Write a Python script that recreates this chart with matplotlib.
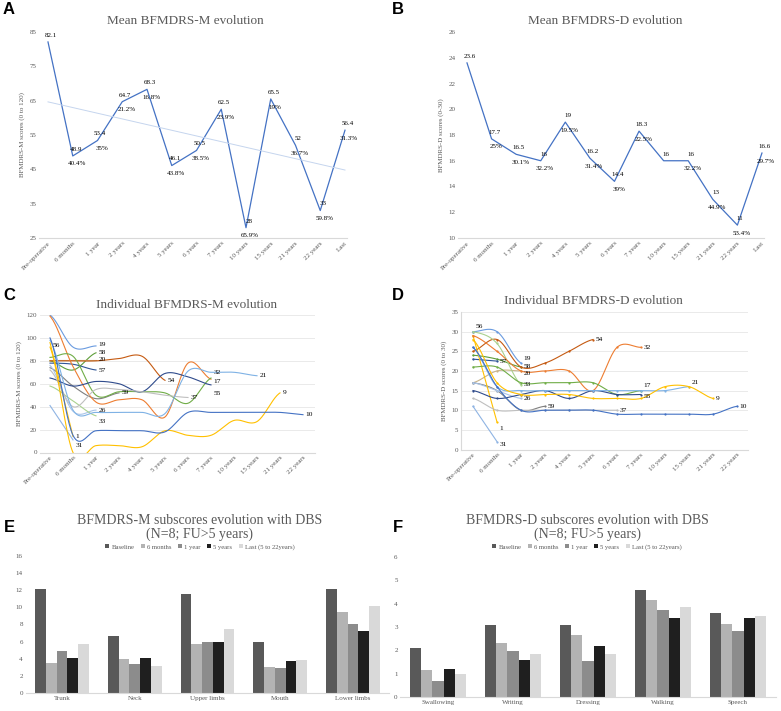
import numpy as np
import matplotlib.pyplot as plt

W, H = 781, 711

# ---- data ----
cats = ['Pre-operative', '6 months', '1 year', '2 years', '4 years', '5 years',
        '6 years', '7 years', '10 years', '15 years', '21 years', '22 years', 'Last']
mean_m = [82.1, 48.9, 53.4, 64.7, 68.3, 46.1, 50.5, 62.5, 28, 65.5, 52, 33, 56.4]
mean_m_pct = ['', '40.4%', '35%', '21.2%', '16.8%', '43.8%', '38.5%', '23.9%',
              '65.9%', '19%', '36.7%', '59.8%', '31.3%']
mean_d = [23.6, 17.7, 16.5, 16, 19, 16.2, 14.4, 18.3, 16, 16, 13, 11, 16.6]
mean_d_pct = ['', '25%', '30.1%', '32.2%', '19.5%', '31.4%', '39%', '22.5%',
              '', '32.2%', '44.9%', '53.4%', '29.7%']

indiv_cats = cats[:-1]
patients = ['56', '19', '58', '20', '57', '54', '59', '26', '33', '1', '31',
            '32', '17', '55', '37', '21', '9', '10']
pat_colors = ['#4472C4', '#6A9BE0', '#5E9E3A', '#C9B48A', '#2F5597', '#C55A11',
              '#7F7F7F', '#A9C4E8', '#A9D18E', '#FFC000', '#8FB4E3', '#ED7D31',
              '#70AD47', '#2F4B8C', '#BFBFBF', '#7FB2E5', '#FFC000', '#4472C4']
indiv_m = [
    [93],
    [120, 92, 93],
    [80, 72, 87],
    [81, 81, 81],
    [78, 77, 72],
    [80, 80, 80, 82, 84, 63],
    [74, 58, 47, 52],
    [76, 36, 37],
    [58, 45, 32],
    [96, 14],
    [41, 11],
    [119, 75, 44, 46, 46, 31, 78, 64],
    [83, 84, 50, 53, 53, 52, 43, 65],
    [65, 58, 62, 60, 53, 69, 66, 59],
    [72, 40, 55, 55, 53, 50, 48],
    [98, 37, 35, 35, 35, 34, 71, 70, 70, 67],
    [92, 0, 6, 6, 5, 19, 15, 15, 28, 27, 52],
    [100, 15, 19, 19, 19, 18, 35, 35, 35, 35, 35, 33],
]
indiv_d = [
    [30],
    [30, 30, 22],
    [24, 23, 21],
    [17, 20, 20],
    [23, 22.5],
    [25, 28, 21, 22, 25, 28],
    [17, 15, 10, 11],
    [17, 15, 13],
    [30, 27, 16.5],
    [29, 7],
    [11, 2],
    [29, 25, 20, 20, 20, 15, 26, 26],
    [21, 21, 17, 17, 17, 17, 14, 15],
    [15, 13, 14, 15, 13, 15, 14, 14],
    [13, 10, 10, 10, 10, 10, 10],
    [26, 16, 15, 15, 15, 15, 15, 15, 15, 16],
    [28, 17, 14, 14, 14, 13, 13, 13, 16, 16, 13],
    [26, 16, 10, 10, 10, 10, 9, 9, 9, 9, 9, 11],
]

series = ['Baseline', '6 months', '1 year', '5 years', 'Last (5 to 22years)']
bar_colors = ['#595959', '#B3B3B3', '#8C8C8C', '#1F1F1F', '#D9D9D9']
m_parts = ['Trunk', 'Neck', 'Upper limbs', 'Mouth', 'Lower limbs']
m_sub = [[12.1, 6.6, 11.6, 5.9, 12.2],
         [3.5, 4.0, 5.7, 3.0, 9.5],
         [4.9, 3.4, 5.9, 2.9, 8.1],
         [4.1, 4.1, 5.9, 3.7, 7.2],
         [5.7, 3.2, 7.5, 3.8, 10.2]]
d_parts = ['Swallowing', 'Writing', 'Dressing', 'Walking', 'Speech']
d_sub = [[2.1, 3.1, 3.1, 4.6, 3.6],
         [1.15, 2.32, 2.64, 4.14, 3.14],
         [0.68, 1.97, 1.54, 3.71, 2.84],
         [1.18, 1.58, 2.18, 3.4, 3.4],
         [0.98, 1.86, 1.86, 3.86, 3.48]]

SERIF = 'Liberation Serif'
GRAY = '#595959'

# vertical nudges (points) for crowded end labels
nudge_m = {'31': -4, '33': -4, '32': 5, '17': -2.5, '55': -6, '19': 1}
nudge_d = {'56': 3.5, '19': 3, '20': -2, '1': -5, '31': -2, '17': 4,
           '55': -1.5, '21': 3}

fig = plt.figure(figsize=(W / 100, H / 100), dpi=100)


def add_ax(x0, unit, xlim, top, bottom):
    left = x0 + xlim[0] * unit
    right = x0 + xlim[1] * unit
    ax = fig.add_axes([left / W, 1 - bottom / H, (right - left) / W, (bottom - top) / H])
    ax.set_xlim(*xlim)
    return ax


def ftxt(x, y, s, **kw):
    kw.setdefault('family', SERIF)
    kw.setdefault('color', GRAY)
    fig.text(x / W, 1 - y / H, s, ha='center', va='center', **kw)


def smooth(y, n=24):
    y = np.asarray(y, float)
    x = np.arange(len(y), dtype=float)
    if len(y) < 3:
        return x, y
    px = np.concatenate([[2 * x[0] - x[1]], x, [2 * x[-1] - x[-2]]])
    py = np.concatenate([[y[0]], y, [y[-1]]])
    t = np.linspace(0, 1, n)
    xs, ys = [], []
    for i in range(1, len(px) - 2):
        for arr, out in ((px, xs), (py, ys)):
            p0, p1, p2, p3 = arr[i - 1], arr[i], arr[i + 1], arr[i + 2]
            out.append(0.5 * (2 * p1 + (-p0 + p2) * t
                              + (2 * p0 - 5 * p1 + 4 * p2 - p3) * t ** 2
                              + (-p0 + 3 * p1 - 3 * p2 + p3) * t ** 3))
    return np.concatenate(xs), np.concatenate(ys)


def style(ax, labels, rot=True, grid=False):
    for s in ['top', 'right', 'left']:
        ax.spines[s].set_visible(False)
    ax.spines['bottom'].set_color('#D9D9D9')
    ax.tick_params(length=0, labelsize=5, labelcolor=GRAY, pad=2)
    ax.set_xticks(range(len(labels)))
    if rot:
        ax.set_xticklabels(labels, rotation=45, ha='right', rotation_mode='anchor')
    else:
        ax.set_xticklabels(labels)
    for lab in ax.get_xticklabels() + ax.get_yticklabels():
        lab.set_family(SERIF)
    if grid:
        ax.grid(axis='y', color='#E6E6E6', lw=0.6)
        ax.set_axisbelow(True)


# ---- A / B: mean evolution ----
for x0, unit, vals, pcts, ylim, yt, ylab, title, tx in [
        (48, 24.75, mean_m, mean_m_pct, (25, 85), range(25, 86, 10),
         'BFMDRS-M scores (0 to 120)', 'Mean BFMDRS-M evolution', 185),
        (467, 24.58, mean_d, mean_d_pct, (10, 26), range(10, 27, 2),
         'BFMDRS-D scores (0-30)', 'Mean BFMDRS-D evolution', 605)]:
    ax = add_ax(x0, unit, (-0.35, 12.1), 32, 238)
    ax.set_ylim(*ylim)
    ax.set_yticks(list(yt))
    x = np.arange(len(vals))
    ax.plot(x, vals, color='#4472C4', lw=0.9, clip_on=False)
    if vals is mean_m:
        k, b = np.polyfit(x, vals, 1)
        ax.plot(x, k * x + b, color='#C5D5EE', lw=0.7)
    for xi, v, p in zip(x, vals, pcts):
        ax.annotate(f'{v:g}', (xi, v), xytext=(2, 3), textcoords='offset points',
                    ha='center', va='bottom', fontsize=5, family=SERIF)
        if p:
            ax.annotate(p, (xi, v), xytext=(3, -4), textcoords='offset points',
                        ha='center', va='top', fontsize=5, family=SERIF)
    style(ax, cats)
    ax.set_ylabel(ylab, fontsize=5, family=SERIF, color=GRAY, labelpad=3)
    ftxt(tx, 21, title, fontsize=9.5)

# ---- C / D: individual evolution ----
for x0, unit, xlim, top, bottom, data, ylim, yt, ylab, title, tx, ty, mk, nudge in [
        (50, 23, (-0.45, 11.5), 315, 452.5, indiv_m, (0, 120), range(0, 121, 20),
         'BFMDRS-M scores (0 to 120)', 'Individual BFMDRS-M evolution', 187, 305, 0,
         nudge_m),
        (473, 24, (-0.5, 11.45), 312, 449.5, indiv_d, (0, 35), range(0, 36, 5),
         'BFMDRS-D scores (0 to 30)', 'Individual BFMDRS-D evolution', 593, 301, 1.6,
         nudge_d)]:
    ax = add_ax(x0, unit, xlim, top, bottom)
    ax.set_ylim(*ylim)
    ax.set_yticks(list(yt))
    for pid, col, vals in zip(patients, pat_colors, data):
        xs, ys = smooth(vals)
        ax.plot(xs, ys, color=col, lw=0.8)
        if mk:
            ax.plot(range(len(vals)), vals, 'o', color=col, ms=mk, mew=0)
        ax.annotate(pid, (len(vals) - 1, vals[-1]), xytext=(2, nudge.get(pid, 0)),
                    textcoords='offset points', ha='left', va='center',
                    fontsize=5.3, family=SERIF)
    style(ax, indiv_cats, grid=True)
    if mk:
        ax.spines['left'].set_visible(True)
        ax.spines['left'].set_color('#D9D9D9')
    ax.set_ylabel(ylab, fontsize=5, family=SERIF, color=GRAY, labelpad=3)
    ftxt(tx, ty, title, fontsize=9.5)

# ---- E / F: subscores ----
for x0, unit, top, bottom, parts, data, ylim, yt, title, tx in [
        (62, 72.75, 556, 693, m_parts, m_sub, (0, 16), range(0, 17, 2),
         'BFMDRS-M subscores evolution with DBS', 200),
        (438, 75, 557, 697, d_parts, d_sub, (0, 6), range(0, 7),
         'BFMDRS-D subscores evolution with DBS', 587)]:
    ax = add_ax(x0, unit, (-0.5, 4.5), top, bottom)
    ax.set_ylim(*ylim)
    ax.set_yticks(list(yt))
    bw = 0.148
    x = np.arange(len(parts))
    for i, (name, col, vals) in enumerate(zip(series, bar_colors, data)):
        ax.bar(x + (i - 2) * bw, vals, width=bw, color=col, label=name)
    style(ax, parts, rot=False)
    ftxt(tx, 520, title, fontsize=10)
    ftxt(tx, 534, '(N=8; FU>5 years)', fontsize=10)
    leg = ax.legend(loc='center', bbox_to_anchor=(tx / W, 1 - 547 / H),
                    bbox_transform=fig.transFigure, ncol=5, frameon=False,
                    handlelength=0.6, handleheight=0.6, handletextpad=0.3,
                    columnspacing=1.0, prop={'family': SERIF, 'size': 4.8})
    for t in leg.get_texts():
        t.set_color(GRAY)

# panel letters
for s, x, y in [('A', 9, 10), ('B', 398, 10), ('C', 9, 296), ('D', 398, 296),
                ('E', 9, 528), ('F', 398, 528)]:
    ftxt(x, y, s, family='Liberation Sans', fontweight='bold', fontsize=12,
         color='black')

fig.savefig('out.png', dpi=100)
